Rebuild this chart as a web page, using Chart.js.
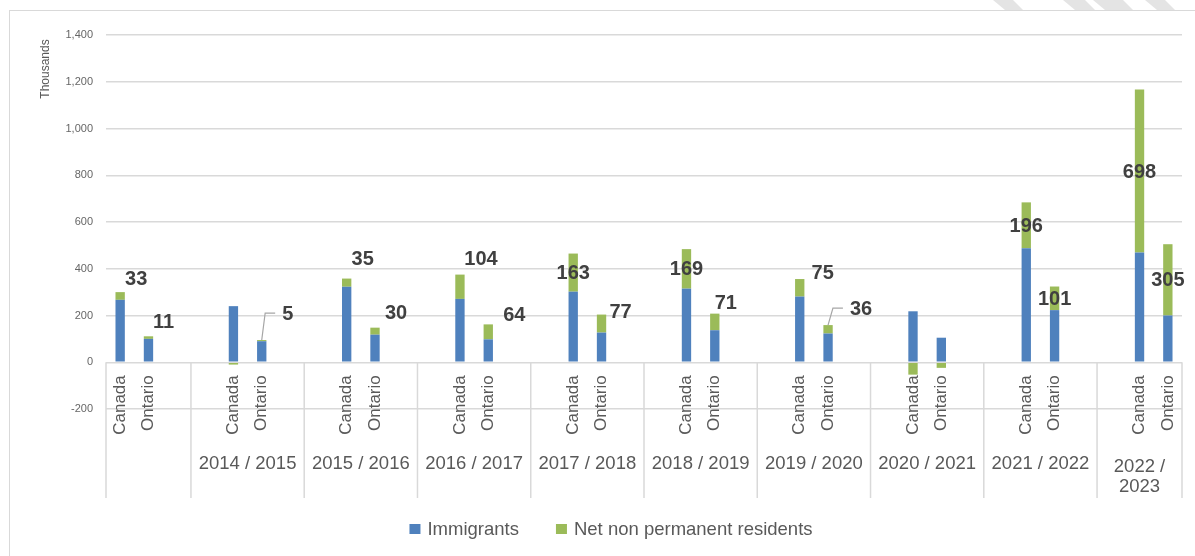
<!DOCTYPE html>
<html>
<head>
<meta charset="utf-8">
<script src="https://cdn.jsdelivr.net/npm/chart.js@4.4.3/dist/chart.umd.min.js"></script>
<style>
  html, body { margin: 0; padding: 0; background: #fff; }
  #wrap { width: 1195px; height: 556px; position: relative; }
</style>
</head>
<body>
<div id="wrap"><canvas id="popChart"></canvas></div>
<script>
// Values in thousands (first period has no year label)
const years = ['', '2014 / 2015', '2015 / 2016', '2016 / 2017', '2017 / 2018', '2018 / 2019', '2019 / 2020', '2020 / 2021', '2021 / 2022', '2022 / 2023'];
const regions = ['Canada', 'Ontario'];
const canadaImmigrants = [267, 240, 323, 271, 302, 315, 281, 218, 488, 469];
const canadaNpr = [33, -10, 35, 104, 163, 169, 75, -53, 196, 698];
const ontarioImmigrants = [100, 90, 118, 98, 127, 137, 123, 105, 223, 200];
const ontarioNpr = [11, 5, 30, 64, 77, 71, 36, -24, 101, 305];
const yTicks = [-200, 0, 200, 400, 600, 800, 1000, 1200, 1400];
const seriesNames = ['Immigrants', 'Net non permanent residents'];

// where the value labels sit: 'mid' = centre of green part, [dx, dy] = moved off the bar top
const canadaLabelSpot = [[16, -14], null, [16, -20], [21, -16], 'mid', 'mid', [23, -7], null, 'mid', 'mid'];
const ontarioLabelSpot = [[15, -15], [26, -27], [21, -15], [26, -10], [19, -3], [11, -11], [33, -17], null, 'mid', 'mid'];
const ontarioLeader = [1, 6];

const FONT = "'Liberation Sans', Arial, sans-serif";
const BLUE = '#4F81BD';
const GREEN = '#9BBB59';
const GRID = '#d9d9d9';
const TEXT = '#595959';
const TABLE_BOTTOM = 498;

// one slot per bar, with two empty slots between periods
const slotLabels = [];
const slotGroup = [];
const slotRegion = [];
const immData = [];
const nprData = [];

function pushEmpty(g) {
    slotLabels.push('');
    slotGroup.push(g);
    slotRegion.push(null);
    immData.push(null);
    nprData.push(null);
}

years.forEach((yr, g) => {
    if (g > 0) pushEmpty(g);
    slotLabels.push(regions[0]); slotGroup.push(g); slotRegion.push(0);
    immData.push(canadaImmigrants[g]); nprData.push(canadaNpr[g]);
    slotLabels.push(regions[1]); slotGroup.push(g); slotRegion.push(1);
    immData.push(ontarioImmigrants[g]); nprData.push(ontarioNpr[g]);
    if (g < years.length - 1) pushEmpty(g);
});

function groupBounds(chart) {
    const x = chart.scales.x;
    const bounds = [chart.chartArea.left];
    for (let i = 0; i < slotGroup.length - 1; i++) {
        if (slotGroup[i] !== slotGroup[i + 1]) {
            bounds.push((x.getPixelForValue(i) + x.getPixelForValue(i + 1)) / 2);
        }
    }
    bounds.push(chart.chartArea.right);
    return bounds;
}

const tablePlugin = {
    id: 'tableAxis',
    beforeDatasetsDraw(chart) {
        const ctx = chart.ctx;
        const y0 = chart.scales.y.getPixelForValue(0);
        ctx.save();
        ctx.strokeStyle = GRID;
        ctx.lineWidth = 1.5;
        groupBounds(chart).forEach(bx => {
            ctx.beginPath();
            ctx.moveTo(bx, y0);
            ctx.lineTo(bx, TABLE_BOTTOM);
            ctx.stroke();
        });
        ctx.restore();
    },
    afterDatasetsDraw(chart) {
        const ctx = chart.ctx;
        const x = chart.scales.x;
        const y0 = chart.scales.y.getPixelForValue(0);
        ctx.save();

        // region names, rotated
        ctx.fillStyle = TEXT;
        ctx.font = '17px ' + FONT;
        ctx.textAlign = 'right';
        ctx.textBaseline = 'middle';
        slotLabels.forEach((lab, i) => {
            if (!lab) return;
            ctx.save();
            ctx.translate(x.getPixelForValue(i), y0 + 13);
            ctx.rotate(-Math.PI / 2);
            ctx.fillText(lab, 0, 0);
            ctx.restore();
        });

        // period names
        const bounds = groupBounds(chart);
        ctx.font = '18.5px ' + FONT;
        ctx.textAlign = 'center';
        years.forEach((yr, g) => {
            if (!yr) return;
            const cx = (bounds[g] + bounds[g + 1]) / 2;
            const room = bounds[g + 1] - bounds[g] - 6;
            if (ctx.measureText(yr).width > room) {
                const cut = yr.lastIndexOf(' ');
                ctx.fillText(yr.slice(0, cut), cx, 467);
                ctx.fillText(yr.slice(cut + 1), cx, 487);
            } else {
                ctx.fillText(yr, cx, 464);
            }
        });

        // value labels for the green part
        const bars = chart.getDatasetMeta(1).data;
        ctx.font = 'bold 20px ' + FONT;
        ctx.fillStyle = '#404040';
        slotRegion.forEach((r, i) => {
            if (r === null) return;
            const g = slotGroup[i];
            const val = nprData[i];
            const spot = r === 0 ? canadaLabelSpot[g] : ontarioLabelSpot[g];
            if (val <= 0 || !spot) return;
            const bar = bars[i];
            let lx, ly;
            if (spot === 'mid') {
                lx = bar.x;
                ly = (bar.y + bar.base) / 2;
            } else {
                lx = bar.x + spot[0];
                ly = bar.y + spot[1];
            }
            const txt = String(val);
            if (r === 1 && ontarioLeader.includes(g)) {
                const left = lx - ctx.measureText(txt).width / 2;
                ctx.save();
                ctx.strokeStyle = '#a6a6a6';
                ctx.lineWidth = 1.2;
                ctx.beginPath();
                ctx.moveTo(bar.x, bar.y);
                ctx.lineTo(left - 17, ly);
                ctx.lineTo(left - 7, ly);
                ctx.stroke();
                ctx.restore();
            }
            ctx.fillText(txt, lx, ly + 1);
        });
        ctx.restore();
    },
    afterDraw(chart) {
        const ctx = chart.ctx;
        ctx.save();

        // outer frame
        ctx.strokeStyle = GRID;
        ctx.lineWidth = 1;
        ctx.strokeRect(9.5, 10.5, 1200, 560);

        // faint hatched stripes at the top right
        ctx.fillStyle = '#e4e4e4';
        [[993, 20], [1063, 22], [1093, 30], [1145, 20]].forEach(([sx, w]) => {
            ctx.beginPath();
            ctx.moveTo(sx, 0);
            ctx.lineTo(sx + w, 0);
            ctx.lineTo(sx + w + 10, 10);
            ctx.lineTo(sx + 12, 10);
            ctx.closePath();
            ctx.fill();
        });

        // axis title
        ctx.fillStyle = TEXT;
        ctx.font = '12px ' + FONT;
        ctx.textAlign = 'center';
        ctx.textBaseline = 'middle';
        ctx.save();
        ctx.translate(46, 69);
        ctx.rotate(-Math.PI / 2);
        ctx.fillText('Thousands', 0, 0);
        ctx.restore();

        // legend
        ctx.font = '18.5px ' + FONT;
        ctx.textAlign = 'left';
        const ds = chart.data.datasets;
        const widths = ds.map(d => 11 + 7 + ctx.measureText(d.label).width);
        const total = widths.reduce((a, b) => a + b, 0) + 37 * (ds.length - 1);
        let lx = 611 - total / 2;
        ds.forEach((d, i) => {
            ctx.fillStyle = d.backgroundColor;
            ctx.fillRect(lx, 524, 11, 10);
            ctx.fillStyle = TEXT;
            ctx.fillText(d.label, lx + 18, 530);
            lx += widths[i] + 37;
        });
        ctx.restore();
    }
};

new Chart(document.getElementById('popChart'), {
    type: 'bar',
    data: {
        labels: slotLabels,
        datasets: [
            { label: seriesNames[0], data: immData, backgroundColor: BLUE },
            { label: seriesNames[1], data: nprData, backgroundColor: GREEN }
        ]
    },
    options: {
        responsive: true,
        maintainAspectRatio: false,
        animation: false,
        layout: { padding: { left: 0, right: 13, top: 35, bottom: 147 } },
        datasets: { bar: { barPercentage: 0.33, categoryPercentage: 1 } },
        plugins: {
            legend: { display: false },
            tooltip: { enabled: false }
        },
        scales: {
            x: {
                stacked: true,
                display: false
            },
            y: {
                stacked: true,
                min: -200,
                max: 1400,
                afterFit(scale) { scale.width = 106; },
                afterBuildTicks(scale) { scale.ticks = yTicks.map(v => ({ value: v })); },
                border: { display: false },
                grid: { color: GRID, lineWidth: 1.5, drawTicks: false },
                ticks: {
                    padding: 13,
                    color: '#666666',
                    font: { family: FONT, size: 11 },
                    callback: v => v.toLocaleString('en-US')
                }
            }
        }
    },
    plugins: [tablePlugin]
});
</script>
</body>
</html>
